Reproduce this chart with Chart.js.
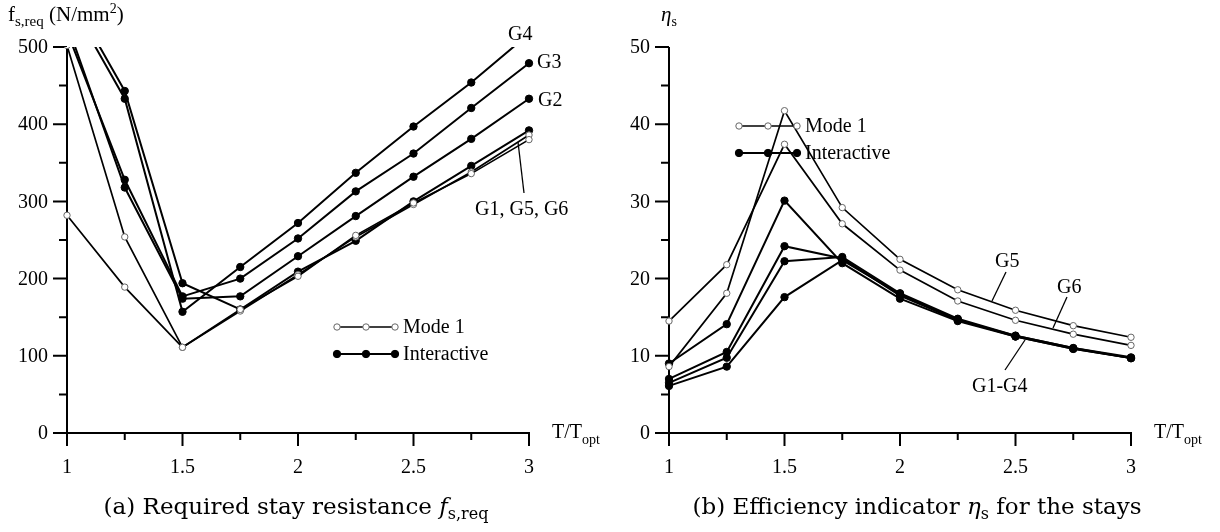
<!DOCTYPE html>
<html>
<head>
<meta charset="UTF-8">
<title>Stay resistance and efficiency indicator</title>
<script src="https://cdn.jsdelivr.net/npm/chart.js"></script>
<style>
  body { margin: 0; background: #fff; }
  #wrap { position: relative; width: 1220px; height: 532px; }
  #wrap canvas { position: absolute; left: 0; top: 0; }
</style>
</head>
<body>
<div id="wrap">
  <canvas id="chartA" width="1220" height="532"></canvas>
  <canvas id="chartB" width="1220" height="532"></canvas>
</div>
<script>
// x values (T/T_opt)
var tRatio = [1, 1.25, 1.5, 1.75, 2, 2.25, 2.5, 2.75, 3];

// (a) required stay resistance f_s,req (N/mm2)
var fsG1 = [575, 443, 194, 160, 209, 249, 300, 346, 392];
var fsG2 = [530, 318, 174, 177, 229, 281, 332, 381, 433];
var fsG3 = [520, 328, 177, 200, 252, 313, 362, 421, 479];
var fsG4 = [565, 433, 157, 215, 272, 337, 397, 454, 517];
var fsG5 = [282, 189, 111, 160, 203, 256, 298, 336, 380];
var fsG6 = [502, 254, 111, 158, 205, 254, 296, 338, 386];

// (b) efficiency indicator eta_s
var etaG1 = [9.0, 14.1, 30.1, 22.0, 17.4, 14.5, 12.5, 10.9, 9.7];
var etaG2 = [7.0, 10.5, 24.2, 22.6, 17.8, 14.6, 12.6, 11.0, 9.7];
var etaG3 = [6.5, 9.75, 22.25, 22.8, 18.1, 14.8, 12.6, 11.0, 9.8];
var etaG4 = [6.1, 8.6, 17.6, 22.4, 18.0, 14.7, 12.5, 10.9, 9.7];
var etaG5 = [8.6, 18.1, 41.75, 29.2, 22.5, 18.55, 15.9, 13.9, 12.4];
var etaG6 = [14.5, 21.8, 37.4, 27.1, 21.1, 17.1, 14.6, 12.8, 11.35];

// ticks
var xMajor = [1, 1.5, 2, 2.5, 3];
var xMinor = [1.25, 1.75, 2.25, 2.75];
var fsMajor = [0, 100, 200, 300, 400, 500];
var fsMinor = [50, 150, 250, 350, 450];
var etaMajor = [0, 10, 20, 30, 40, 50];
var etaMinor = [5, 15, 25, 35, 45];

var SERIF = '"Liberation Serif", "Times New Roman", serif';
var CAPFONT = '"DejaVu Serif", serif';

function pts(ys) {
  return tRatio.map(function (x, i) { return { x: x, y: ys[i] }; });
}

function series(ys, open) {
  return {
    data: pts(ys),
    borderColor: '#000',
    borderWidth: open ? 1.7 : 2,
    pointRadius: open ? 3.2 : 3.7,
    pointBorderWidth: 1,
    pointBackgroundColor: open ? '#fff' : '#000',
    pointBorderColor: open ? '#666' : '#000',
    tension: 0,
    clip: { left: 8, right: 8, top: 0, bottom: 8 }
  };
}

// text made of pieces (subscripts, italics)
function rich(ctx, x, y, parts, align, family) {
  var w = 0;
  parts.forEach(function (p) {
    ctx.font = (p.it ? 'italic ' : '') + p.s + 'px ' + (family || SERIF);
    p.w = ctx.measureText(p.t).width;
    w += p.w;
  });
  var cx = align === 'center' ? x - w / 2 : (align === 'right' ? x - w : x);
  ctx.textAlign = 'left';
  ctx.textBaseline = 'alphabetic';
  parts.forEach(function (p) {
    ctx.font = (p.it ? 'italic ' : '') + p.s + 'px ' + (family || SERIF);
    ctx.fillText(p.t, cx, y + (p.dy || 0));
    cx += p.w;
  });
}

function marker(ctx, x, y, open) {
  ctx.beginPath();
  ctx.arc(x, y, open ? 3.2 : 3.7, 0, Math.PI * 2);
  ctx.fillStyle = open ? '#fff' : '#000';
  ctx.fill();
  ctx.lineWidth = 1;
  ctx.strokeStyle = open ? '#666' : '#000';
  ctx.stroke();
}

function panelPlugin(p) {
  return {
    id: 'panel',
    beforeDatasetsDraw: function (chart) {
      var ctx = chart.ctx, xs = chart.scales.x, ys = chart.scales.y;
      var x0 = xs.getPixelForValue(1), x1 = xs.getPixelForValue(3);
      var y0 = ys.getPixelForValue(0), yT = ys.getPixelForValue(p.yMax);
      ctx.save();
      ctx.strokeStyle = '#000';
      ctx.lineWidth = 2;
      ctx.beginPath();
      ctx.moveTo(x0, yT); ctx.lineTo(x0, y0 + 13);
      ctx.moveTo(x0 - 14, y0); ctx.lineTo(x1 + 1, y0);
      p.major.forEach(function (v) {
        var py = ys.getPixelForValue(v);
        ctx.moveTo(x0 - 14, py); ctx.lineTo(x0, py);
      });
      p.minor.forEach(function (v) {
        var py = ys.getPixelForValue(v);
        ctx.moveTo(x0 - 8, py); ctx.lineTo(x0, py);
      });
      xMajor.forEach(function (v) {
        var px = xs.getPixelForValue(v);
        ctx.moveTo(px, y0); ctx.lineTo(px, y0 + 13);
      });
      xMinor.forEach(function (v) {
        var px = xs.getPixelForValue(v);
        ctx.moveTo(px, y0); ctx.lineTo(px, y0 + 7);
      });
      ctx.stroke();

      ctx.fillStyle = '#000';
      ctx.font = '20px ' + SERIF;
      ctx.textAlign = 'right';
      ctx.textBaseline = 'middle';
      p.major.forEach(function (v) {
        ctx.fillText(String(v), x0 - 19, ys.getPixelForValue(v) + 1);
      });
      ctx.textAlign = 'center';
      ctx.textBaseline = 'alphabetic';
      xMajor.forEach(function (v) {
        ctx.fillText(String(v), xs.getPixelForValue(v), y0 + 40);
      });
      rich(ctx, x1 + 23, y0 + 5, [{ t: 'T/T', s: 20 }, { t: 'opt', s: 14, dy: 6 }], 'left');
      rich(ctx, p.yTitleX, 21, p.yTitle, 'left');
      rich(ctx, p.capX, 514, p.caption, 'center', CAPFONT);
      ctx.restore();
    },
    afterDatasetsDraw: function (chart) {
      var ctx = chart.ctx;
      ctx.save();
      // legend
      var rows = [{ t: 'Mode 1', open: true }, { t: 'Interactive', open: false }];
      rows.forEach(function (r, i) {
        var y = p.legY + i * 27;
        ctx.strokeStyle = '#000';
        ctx.lineWidth = r.open ? 1.7 : 2;
        ctx.beginPath();
        ctx.moveTo(p.legX, y); ctx.lineTo(p.legX + 58, y);
        ctx.stroke();
        [0, 29, 58].forEach(function (d) { marker(ctx, p.legX + d, y, r.open); });
        ctx.fillStyle = '#000';
        ctx.font = '20px ' + SERIF;
        ctx.textAlign = 'left';
        ctx.textBaseline = 'middle';
        ctx.fillText(r.t, p.legX + 66, y + 1);
      });
      // group labels and leader lines
      ctx.font = '20px ' + SERIF;
      ctx.textBaseline = 'alphabetic';
      ctx.fillStyle = '#000';
      p.notes.forEach(function (n) {
        ctx.fillText(n.t, n.x, n.y);
      });
      ctx.lineWidth = 1.3;
      ctx.strokeStyle = '#000';
      p.leaders.forEach(function (l) {
        ctx.beginPath();
        ctx.moveTo(l[0], l[1]); ctx.lineTo(l[2], l[3]);
        ctx.stroke();
      });
      ctx.restore();
    }
  };
}

function makePanel(id, sets, p) {
  new Chart(document.getElementById(id), {
    type: 'line',
    data: { datasets: sets },
    options: {
      responsive: false,
      animation: false,
      events: [],
      layout: { padding: p.pad },
      plugins: { legend: { display: false }, tooltip: { enabled: false } },
      scales: {
        x: { type: 'linear', min: 1, max: 3, display: false },
        y: { type: 'linear', min: 0, max: p.yMax, display: false }
      }
    },
    plugins: [panelPlugin(p)]
  });
}

makePanel('chartA', [
  series(fsG5, true), series(fsG6, true),
  series(fsG1, false), series(fsG2, false), series(fsG3, false), series(fsG4, false)
], {
  pad: { left: 67, right: 691, top: 47, bottom: 99 },
  yMax: 500, major: fsMajor, minor: fsMinor,
  yTitleX: 8,
  yTitle: [{ t: 'f', s: 21 }, { t: 's,req', s: 15, dy: 5 }, { t: ' (N/mm', s: 21 }, { t: '2', s: 14, dy: -8 }, { t: ')', s: 21 }],
  capX: 296,
  caption: [{ t: '(a) Required stay resistance ', s: 23 }, { t: 'f', s: 23, it: true }, { t: 's,req', s: 16, dy: 5 }],
  legX: 337, legY: 327,
  notes: [
    { t: 'G4', x: 508, y: 40 }, { t: 'G3', x: 537, y: 68 },
    { t: 'G2', x: 538, y: 106 }, { t: 'G1, G5, G6', x: 475, y: 215 }
  ],
  leaders: [[518, 142, 524, 193]]
});

makePanel('chartB', [
  series(etaG5, true), series(etaG6, true),
  series(etaG1, false), series(etaG2, false), series(etaG3, false), series(etaG4, false)
], {
  pad: { left: 669, right: 89, top: 47, bottom: 99 },
  yMax: 50, major: etaMajor, minor: etaMinor,
  yTitleX: 661,
  yTitle: [{ t: 'η', s: 21, it: true }, { t: 's', s: 14, dy: 5 }],
  capX: 917,
  caption: [{ t: '(b) Efficiency indicator ', s: 23 }, { t: 'η', s: 23, it: true }, { t: 's', s: 16, dy: 5 }, { t: ' for the stays', s: 23 }],
  legX: 739, legY: 126,
  notes: [
    { t: 'G5', x: 995, y: 267 }, { t: 'G6', x: 1057, y: 293 }, { t: 'G1-G4', x: 972, y: 392 }
  ],
  leaders: [[1006, 272, 992, 301], [1067, 297, 1053, 328], [1005, 370, 1025, 340]]
});
</script>
</body>
</html>
